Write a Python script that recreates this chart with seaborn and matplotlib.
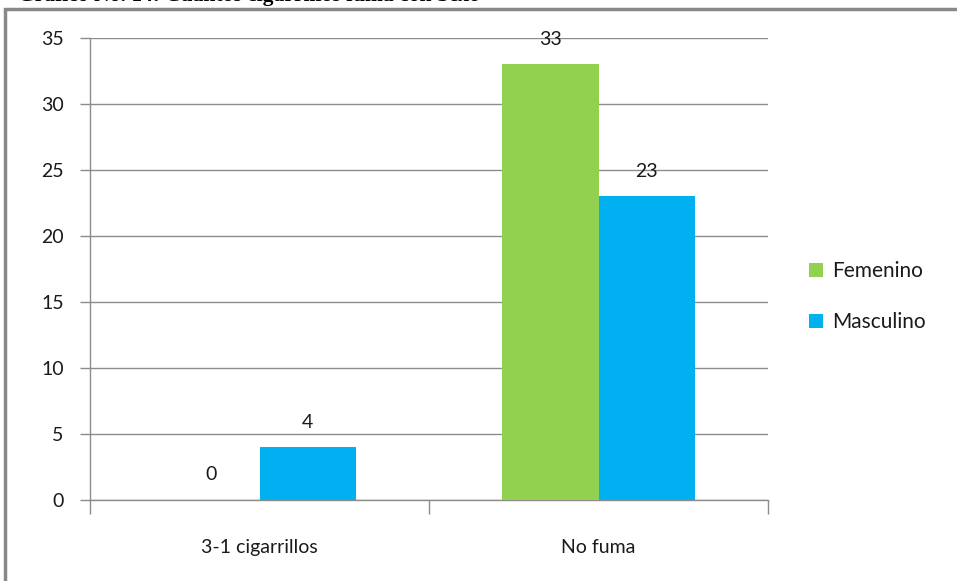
import matplotlib
matplotlib.use("Agg")
import matplotlib.pyplot as plt
import seaborn as sns
import pandas as pd
from matplotlib.patches import Rectangle

categories = ["3-1 cigarrillos", "No fuma"]
series_names = ["Femenino", "Masculino"]
femenino = [0, 33]
masculino = [4, 23]
yticks = [0, 5, 10, 15, 20, 25, 30, 35]

colors = {"Femenino": "#92D050", "Masculino": "#00B0F0"}

df = pd.DataFrame({
    "cat": categories * 2,
    "sexo": [series_names[0]] * 2 + [series_names[1]] * 2,
    "val": femenino + masculino,
})

sns.set_theme(style="white")
plt.rcParams["font.family"] = ["Lato", "DejaVu Sans"]

fig = plt.figure(figsize=(9.57, 5.81), dpi=100)
ax = fig.add_axes([90/957, (581-500)/581, (768-90)/957, (500-38)/581])

sns.barplot(data=df, x="cat", y="val", hue="sexo", palette=colors,
            order=categories, hue_order=series_names, width=0.57,
            saturation=1, ax=ax, legend=True, zorder=3, linewidth=0)

ax.set_ylim(0, 35)
ax.set_xlim(-0.5, 1.5)
ax.set_yticks(yticks)
ax.set_yticklabels([str(t) for t in yticks], fontsize=14)
ax.yaxis.grid(True, color="#8c8c8c", linewidth=1.0, zorder=0)
ax.set_axisbelow(True)
ax.set_xlabel("")
ax.set_ylabel("")
for s in ["top", "right"]:
    ax.spines[s].set_visible(False)
for s in ["left", "bottom"]:
    ax.spines[s].set_color("#8c8c8c")
    ax.spines[s].set_linewidth(1.0)

ax.tick_params(axis="y", which="major", length=7, width=1, color="#8c8c8c",
               left=True, pad=12, labelcolor="#1a1a1a")
ax.set_xticks([-0.5, 0.5, 1.5], minor=True)
ax.tick_params(axis="x", which="minor", length=10, width=1, color="#8c8c8c",
               bottom=True)
ax.tick_params(axis="x", which="major", length=0, pad=28, labelsize=14,
               labelcolor="#1a1a1a")

for cont in ax.containers:
    ax.bar_label(cont, fmt="%d", padding=12, fontsize=14, color="#1a1a1a")

leg = ax.legend(loc="center left", bbox_to_anchor=(1.048, 0.44), frameon=False,
                fontsize=15, handlelength=0.7, handleheight=0.7,
                handletextpad=0.4, labelspacing=1.5, borderaxespad=0)
for t in leg.get_texts():
    t.set_color("#1a1a1a")

fig.patches.append(Rectangle((5/957, -0.1), 1.0, (581-9)/581 + 0.1,
                             transform=fig.transFigure, fill=False,
                             edgecolor="#888888", linewidth=2.5))

fig.text(18/957, 1 + 3.5/581, "Gráfico No. 14: Cuántos cigarrillos fuma con Sexo",
         fontsize=15.5, fontweight="bold", family=["Liberation Serif"],
         va="center", ha="left", color="black")

fig.savefig("out.png", dpi=100)
